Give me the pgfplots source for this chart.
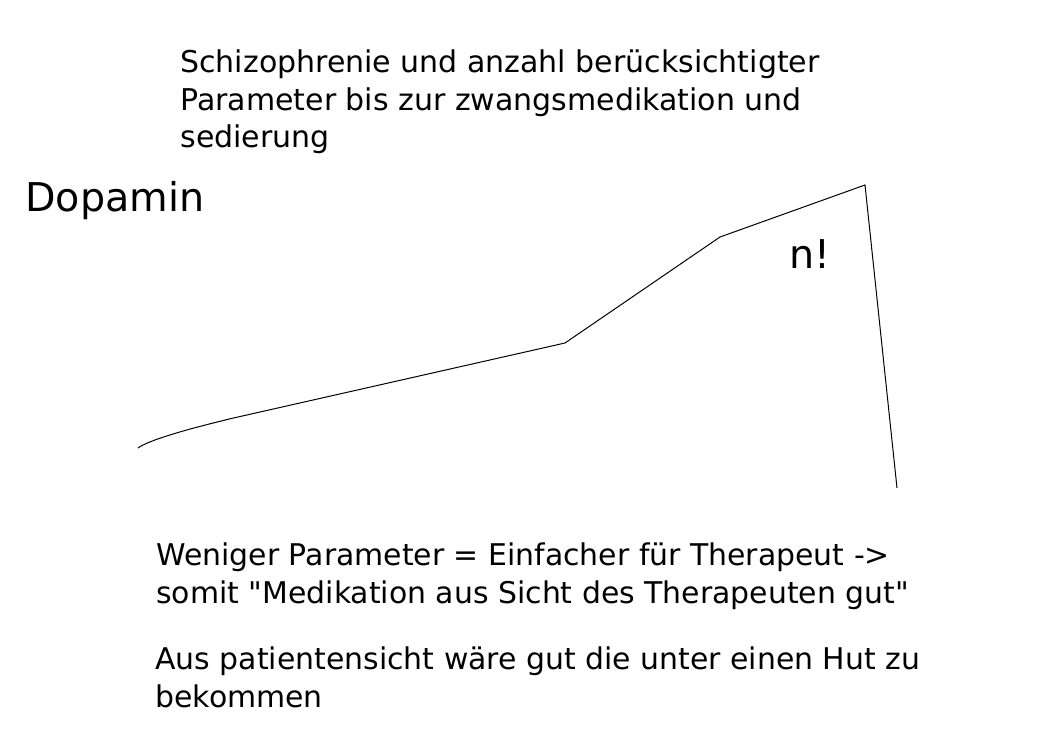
\documentclass[border=0pt]{standalone}
\usepackage{pgfplots}
\pgfplotsset{compat=1.18}
\usepackage{fontspec}
\setmainfont{DejaVu Sans}[Ligatures=TeXOff]
\begin{document}
\begin{tikzpicture}
\begin{axis}[
  width=526bp, height=372bp, scale only axis,
  xmin=0, xmax=1052, ymin=0, ymax=744, y dir=reverse,
  hide axis, clip=false,
]
\addplot[black, line width=0.5pt] coordinates {
 (138,448) (142,445.5) (148,442.7) (156,439.6) (166,436.2) (178,432.5) (192,428.5) (210,423.8) (230,418.8)
 (565,343) (720,237) (865,185) (897,488)
};
\node[anchor=base west, inner sep=0pt, align=left, font=\fontsize{15.05}{19}\selectfont] at (axis cs:180,148)
 {Schizophrenie und anzahl berücksichtigter\\Parameter bis zur zwangsmedikation und\\sedierung};
\node[anchor=base west, inner sep=0pt, font=\fontsize{19.9}{24}\selectfont] at (axis cs:25,211) {Dopamin};
\node[anchor=base west, inner sep=0pt, font=\fontsize{19.9}{24}\selectfont] at (axis cs:789,268) {n!};
\node[anchor=base west, inner sep=0pt, align=left, font=\fontsize{15}{19}\selectfont] at (axis cs:156,603)
 {Weniger Parameter = Einfacher für Therapeut ->\\somit "Medikation aus Sicht des Therapeuten gut"};
\node[anchor=base west, inner sep=0pt, align=left, font=\fontsize{15}{19}\selectfont] at (axis cs:155,707)
 {Aus patientensicht wäre gut die unter einen Hut zu\\bekommen};
\end{axis}
\pgfresetboundingbox
\path[use as bounding box] (current axis.south west) rectangle (current axis.north east);
\end{tikzpicture}
\end{document}
